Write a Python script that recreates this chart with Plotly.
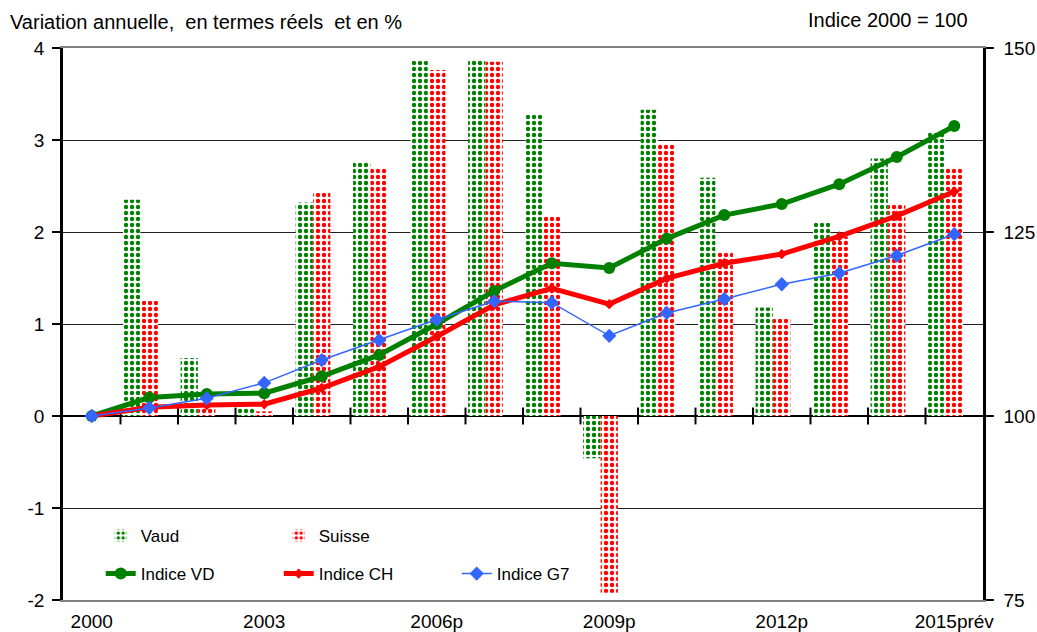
import plotly.graph_objects as go

categories = ["2000", "2001", "2002", "2003", "2004", "2005", "2006p", "2007p",
              "2008p", "2009p", "2010p", "2011p", "2012p", "2013p", "2014p", "2015prév"]
tick_labels = ["2000", "2003", "2006p", "2009p", "2012p", "2015prév"]
left_ticks = [-2, -1, 0, 1, 2, 3, 4]
left_text = ["-2", "-1", "0", "1", "2", "3", "4"]

vaud = [None, 2.35, 0.63, 0.09, 2.32, 2.77, 3.86, 3.88, 3.28, -0.46, 3.33, 2.59, 1.18, 2.10, 2.80, 3.09]
suisse = [None, 1.25, 0.09, 0.05, 2.43, 2.70, 3.76, 3.85, 2.17, -1.92, 2.96, 1.79, 1.06, 1.95, 2.30, 2.70]

indice_vd = [100, 102.5, 103.0, 103.1, 105.4, 108.3, 112.5, 117.0, 120.75, 120.1, 124.1, 127.3, 128.8, 131.5, 135.2, 139.4]
indice_ch = [100, 101.2, 101.5, 101.6, 103.8, 106.7, 110.8, 115.1, 117.35, 115.2, 118.7, 120.75, 122.0, 124.4, 127.2, 130.5]
indice_g7 = [100, 101.1, 102.4, 104.5, 107.6, 110.3, 113.1, 115.6, 115.4, 110.9, 114.0, 115.9, 117.9, 119.4, 121.8, 124.7]

GREEN = "#008000"
RED = "#ff0000"
BLUE = "#3366ff"
FONT = "Liberation Sans, Arial, sans-serif"

n = len(categories)
x_idx = list(range(n))
tick_pos = [categories.index(t) for t in tick_labels]
boundaries = [i + 0.5 for i in range(n - 1)]  # inner category boundaries

fig = go.Figure()

fig.add_trace(go.Bar(
    x=x_idx, y=vaud, name="Vaud", offset=-0.455, width=0.30,
    customdata=categories, hovertemplate="%{customdata}: %{y}<extra>Vaud</extra>",
    marker=dict(color=GREEN, line=dict(width=0),
                pattern=dict(shape=".", fgcolor=GREEN, bgcolor="white", size=6, solidity=0.42, fillmode="replace")),
    legend="legend",
))
fig.add_trace(go.Bar(
    x=x_idx, y=suisse, name="Suisse", offset=-0.15, width=0.30,
    customdata=categories, hovertemplate="%{customdata}: %{y}<extra>Suisse</extra>",
    marker=dict(color=RED, line=dict(width=0),
                pattern=dict(shape=".", fgcolor=RED, bgcolor="white", size=6, solidity=0.42, fillmode="replace")),
    legend="legend",
))

# category-boundary tick marks crossing the zero line
fig.add_trace(go.Scatter(x=boundaries, y=[0] * len(boundaries),
                         showlegend=False, hoverinfo="skip", mode="markers",
                         marker=dict(symbol="line-ns-open", size=12, color="black",
                                     line=dict(color="black", width=2))))

fig.add_trace(go.Scatter(
    x=x_idx, y=indice_vd, name="Indice VD", yaxis="y2", mode="lines+markers",
    line=dict(color=GREEN, width=5), marker=dict(symbol="circle", size=12, color=GREEN),
    legend="legend2",
))
fig.add_trace(go.Scatter(
    x=x_idx, y=indice_ch, name="Indice CH", yaxis="y2", mode="lines+markers",
    line=dict(color=RED, width=5), marker=dict(symbol="diamond", size=8, color=RED),
    legend="legend2",
))
fig.add_trace(go.Scatter(
    x=x_idx, y=indice_g7, name="Indice G7", yaxis="y2", mode="lines+markers",
    line=dict(color=BLUE, width=1.5), marker=dict(symbol="diamond", size=11, color=BLUE),
    legend="legend2",
))

fig.update_layout(
    width=1037, height=632,
    margin=dict(l=63, r=54, t=48, b=32),
    paper_bgcolor="white", plot_bgcolor="white",
    font=dict(family=FONT, size=19, color="black"),
    barmode="overlay",
    showlegend=True,
    xaxis=dict(
        type="linear", range=[-0.5, n - 0.5], automargin=False,
        tickmode="array", tickvals=tick_pos, ticktext=tick_labels,
        ticks="", showgrid=False, zeroline=False,
        showline=True, linecolor="#808080", linewidth=2, mirror=True,
        ticklabelstandoff=3, tickfont=dict(size=19),
    ),
    yaxis=dict(
        range=[-2, 4], tickmode="array", tickvals=left_ticks, ticktext=left_text,
        automargin=False,
        showgrid=True, gridcolor="#222222", gridwidth=1.3,
        zeroline=True, zerolinecolor="black", zerolinewidth=2.2,
        showline=True, linecolor="black", linewidth=2.5,
        ticks="outside", ticklen=8, tickcolor="black", tickwidth=1.5,
        ticklabelstandoff=4, tickfont=dict(size=19),
    ),
    yaxis2=dict(
        range=[75, 150], dtick=25, tick0=75, overlaying="y", side="right",
        automargin=False,
        showgrid=False, zeroline=False,
        showline=True, linecolor="black", linewidth=2.5,
        ticks="outside", ticklen=8, tickcolor="black", tickwidth=1.5,
        ticklabelstandoff=6, tickfont=dict(size=19),
    ),
    legend=dict(
        orientation="h", x=0.041, y=0.116, xanchor="left", yanchor="middle",
        entrywidth=133, entrywidthmode="pixels", bgcolor="rgba(0,0,0,0)",
        font=dict(size=17),
    ),
    legend2=dict(
        orientation="h", x=0.041, y=0.047, xanchor="left", yanchor="middle",
        entrywidth=133, entrywidthmode="pixels", bgcolor="rgba(0,0,0,0)",
        font=dict(size=17),
    ),
    annotations=[
        dict(text="Variation annuelle,  en termes réels  et en %", xref="paper", yref="paper",
             x=-55 / 920, y=1 + 26 / 552, xanchor="left", yanchor="middle",
             showarrow=False, font=dict(size=20)),
        dict(text="Indice 2000 = 100", xref="paper", yref="paper",
             x=1 - 13 / 920, y=1 + 28 / 552, xanchor="right", yanchor="middle",
             showarrow=False, font=dict(size=20)),
    ],
)

fig.write_html("out.html", config={"displayModeBar": False},
               post_script="document.body.style.margin='0';")
